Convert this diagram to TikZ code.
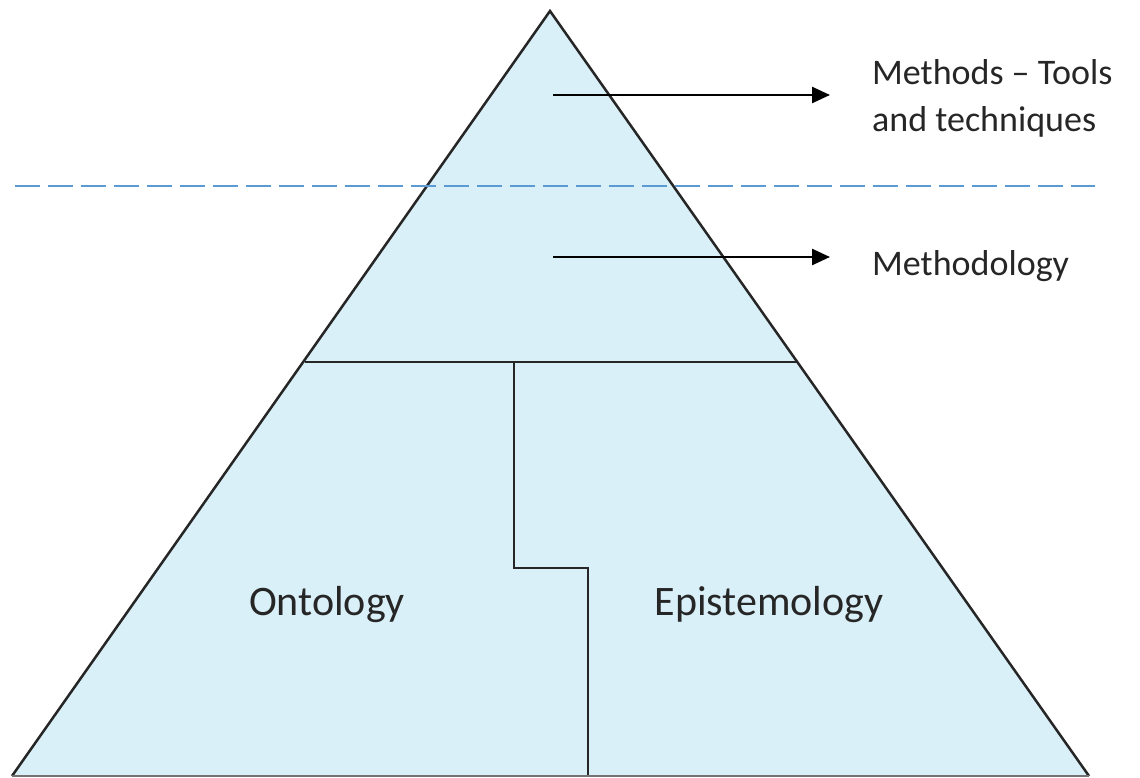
\documentclass[tikz,border=0pt]{standalone}
\usepackage{fontspec}
\setmainfont{Carlito}
\usetikzlibrary{arrows.meta}
\definecolor{pyrfill}{HTML}{DAF0F8}
\definecolor{dashblue}{HTML}{5B9BD5}
\definecolor{inktext}{HTML}{262626}
\begin{document}
\begin{tikzpicture}[x=1pt,y=-1pt,
  edge/.style={draw=black!85,line width=2.5pt,line join=miter},
  pointer/.style={draw=black,line width=2.5pt,-{Triangle[length=18pt,width=16pt]}},
  sidelabel/.style={anchor=base west,inner sep=0pt,font=\fontsize{36}{46.5}\selectfont,text=inktext,align=left},
  biglabel/.style={anchor=base,inner sep=0pt,font=\fontsize{42}{50}\selectfont,text=inktext}]
  \useasboundingbox (0,0) rectangle (1140,778);
  % pyramid outline
  \coordinate (apex) at (550,11);
  \coordinate (bl) at (12,776);
  \coordinate (br) at (1089,776);
  \fill[pyrfill] (apex) -- (bl) -- (br) -- cycle;
  % dividing lines
  \coordinate (midl) at (305,362);
  \coordinate (midr) at (797,362);
  \draw[edge] (midl) -- (midr);
  \coordinate (s1) at (514,362);
  \coordinate (s2) at (514,568);
  \coordinate (s3) at (588,568);
  \coordinate (s4) at (588,776);
  \draw[edge] (s1) -- (s2) -- (s3) -- (s4);
  \draw[edge] (bl) -- (apex) -- (br);
  \draw[draw=black!55,line width=2.5pt] (bl) -- (br);
  % boundary between levels
  \coordinate (dl) at (15,186);
  \coordinate (dr) at (1095,186);
  \draw[dashblue,line width=2.3pt,dash pattern=on 25pt off 8pt] (dl) -- (dr);
  % labels and pointers (multi-line node sits on its last baseline)
  \node[sidelabel] (methods) at (872,131.5) {Methods -- Tools\\and techniques};
  \node[sidelabel] (methodology) at (872,275) {Methodology};
  \coordinate (a1) at (553,95);
  \coordinate (a2) at (553,257);
  \draw[pointer] (a1) -- (830,95) coordinate (a1e);
  \draw[pointer] (a2) -- (830,257) coordinate (a2e);
  \node[biglabel] (onto) at (327,615) {Ontology};
  \node[biglabel] (epist) at (769,615) {Epistemology};
\end{tikzpicture}
\end{document}
